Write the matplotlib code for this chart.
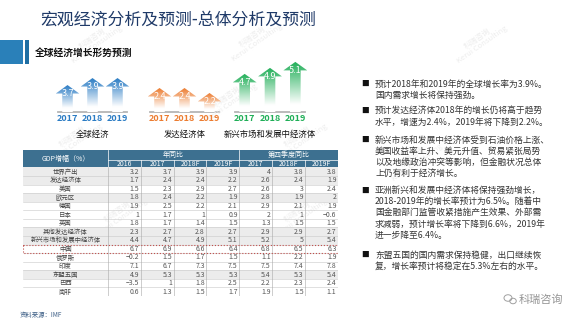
import matplotlib
matplotlib.use("Agg")
import matplotlib.pyplot as plt
import numpy as np
from matplotlib.patches import Polygon, Rectangle, Ellipse

plt.rcParams['font.family'] = ['Noto Sans CJK SC', 'DejaVu Sans']

W, H = 580, 327

# ---- data ----
years = ['2017', '2018', '2019']
group_names = ['全球经济', '发达经济体', '新兴市场和发展中经济体']
world = [3.7, 3.9, 3.9]
advanced = [2.4, 2.4, 2.2]
emerging = [4.7, 4.9, 5.1]
group_colors = ['#2b7cc4', '#ec7c30', '#1fae57']

row_labels = ['世界产出', '发达经济体', '美国', '欧元区', '德国', '日本', '英国',
              '其他发达经济体', '新兴市场和发展中经济体', '中国', '俄罗斯', '印度',
              '东盟五国', '巴西', '南非']
col_labels = ['2016', '2017', '2018F', '2019F', '2017', '2018F', '2019F']
y2016 = [3.2, 1.7, 1.5, 1.8, 1.9, 1, 1.8, 2.3, 4.4, 6.7, -0.2, 7.1, 4.9, -3.5, 0.6]
y2017 = [3.7, 2.4, 2.3, 2.4, 2.5, 1.7, 1.7, 2.7, 4.7, 6.9, 1.5, 6.7, 5.3, 1, 1.3]
y2018f = [3.9, 2.4, 2.9, 2.2, 2.2, 1, 1.4, 2.8, 4.9, 6.6, 1.7, 7.3, 5.3, 1.8, 1.5]
y2019f = [3.9, 2.2, 2.7, 1.9, 2.1, 0.9, 1.5, 2.7, 5.1, 6.4, 1.5, 7.5, 5.3, 2.5, 1.7]
q2017 = [4, 2.6, 2.6, 2.8, 2.9, 2, 1.3, 2.9, 5.2, 6.8, 1.1, 7.5, 5.4, 2.2, 1.9]
q2018f = [3.8, 2.4, 3, 1.9, 2.1, 1, 1.5, 2.9, 5, 6.5, 2.2, 7.4, 5.3, 2.3, 1.5]
q2019f = [3.8, 1.9, 2.4, 2, 1.9, -0.6, 1.5, 2.7, 5.4, 6.3, 1.9, 7.8, 5.4, 2.4, 1.1]
shaded_rows = [0, 1, 3, 7, 8, 12]

bullets = [
    ['预计2018年和2019年的全球增长率为3.9%。', '国内需求增长将保持强劲。'],
    ['预计发达经济体2018年的增长仍将高于趋势', '水平，增速为2.4%，2019年将下降到2.2%。'],
    ['新兴市场和发展中经济体受到石油价格上涨、', '美国收益率上升、美元升值、贸易紧张局势',
     '以及地缘政治冲突等影响，但金融状况总体', '上仍有利于经济增长。'],
    ['亚洲新兴和发展中经济体将保持强劲增长，', '2018-2019年的增长率预计为6.5%。随着中',
     '国金融部门监管收紧措施产生效果、外部需', '求减弱，预计增长率将下降到6.6%，2019年',
     '进一步降至6.4%。'],
    ['东盟五国的国内需求保持稳健，出口继续恢', '复，增长率预计将稳定在5.3%左右的水平。'],
]
bullet_tops = [84, 110.7, 140, 190.5, 255]


def box(x0, y0, x1, y1):
    # pixel box (top-left origin) -> figure fraction rect
    return [x0 / W, 1 - y1 / H, (x1 - x0) / W, (y1 - y0) / H]


fig = plt.figure(figsize=(W / 100, H / 100), dpi=100)
fig.patch.set_facecolor('white')

# background / decoration layer in pixel coordinates
bg = fig.add_axes([0, 0, 1, 1])
bg.set_xlim(0, W)
bg.set_ylim(H, 0)
bg.axis('off')

# faint watermarks
for wx, wy in [(95, 42), (255, 40), (480, 42), (75, 140), (300, 140), (120, 215),
               (300, 215), (415, 160), (230, 100)]:
    bg.text(wx, wy, '科瑞咨询\nKerui Consulting', fontsize=5.5, color='#ededed',
            rotation=35, ha='center', va='center', linespacing=0.9)

bg.text(40, 20, '宏观经济分析及预测-总体分析及预测', fontsize=12.2, color='#1f3a68',
        ha='left', va='center')
bg.add_patch(Rectangle((0, 40), 23, 24, color='#2a80b9', lw=0))
bg.add_patch(Rectangle((25, 40), 3.5, 24, color='#1f6ea3', lw=0))
bg.text(35, 53, '全球经济增长形势预测', fontsize=7, fontweight='bold', color='#111111',
        ha='left', va='center')

bg.text(20, 315, '资料来源：IMF', fontsize=4.6, color='#3d5f86', ha='left', va='center')

# logo bottom right
bg.add_patch(Ellipse((508, 298), 8, 6.5, fill=False, ec='#a0a0a0', lw=0.7))
bg.add_patch(Ellipse((513, 301), 6.5, 5.5, fill=False, ec='#a0a0a0', lw=0.7))
bg.text(519, 299.5, '科瑞咨询', fontsize=8, color='#949494', ha='left', va='center')

# bullets
for top, lines in zip(bullet_tops, bullets):
    bg.text(365, top, '■', fontsize=5.5, color='#111111', ha='center', va='center')
    for k, line in enumerate(lines):
        bg.text(375, top + k * 11.2, line, fontsize=6.3, color='#333333',
                ha='left', va='center')

# ---- arrow groups ----
groups = [world, advanced, emerging]
group_px = [(55, 130), (147, 222), (232, 308)]
group_base = [2.93, 1.44, 3.43]
group_scale = [35, 25, 30]   # px per unit
area_top, area_bot = 60, 112
for vals, (gx0, gx1), base, scale, col, name in zip(groups, group_px, group_base,
                                                     group_scale, group_colors, group_names):
    ax = fig.add_axes(box(gx0, area_top, gx1, area_bot))
    ax.set_xlim(-0.5, 2.5)
    ax.set_ylim(base, base + (area_bot - area_top) / scale)
    ax.axis('off')
    head_h = 8.5 / scale
    rgb = np.array(matplotlib.colors.to_rgb(col))
    frac = np.linspace(0, 1, 100)
    mix = np.clip(frac / 0.85, 0, 1)[:, None]
    g = np.ones((100, 1, 4))
    g[:, 0, :3] = rgb * (1 - mix) + mix * 1.0
    for i, v in enumerate(vals):
        sw, hw = 0.21, 0.47
        pts = [(i - sw, base), (i - sw, v - head_h), (i - hw, v - head_h), (i, v),
               (i + hw, v - head_h), (i + sw, v - head_h), (i + sw, base)]
        poly = Polygon(pts, closed=True, fc='none', ec='none')
        ax.add_patch(poly)
        # gradient: strong at top, fading to white at the base
        im = ax.imshow(g, extent=(i - hw, i + hw, base, v), aspect='auto',
                       origin='upper', zorder=2)
        im.set_clip_path(poly)
        ax.text(i, v - head_h * 1.05, f'{v:g}', color='white', fontsize=6.5,
                ha='center', va='center', zorder=3)
    bg.plot([gx0 + 3, gx1 - 3], [112, 112], color='#b5b5b5', lw=1.3)
    cx = [gx0 + (gx1 - gx0) * (k + 0.5) / 3 for k in range(3)]
    for xx, yr in zip(cx, years):
        bg.text(xx, 118.5, yr, fontsize=6.5, fontweight='bold', color=col,
                ha='center', va='center')
    bg.text((gx0 + gx1) / 2, 134, name, fontsize=6, color='#111111',
            ha='center', va='center')

# ---- table ----
cols = [y2016, y2017, y2018f, y2019f, q2017, q2018f, q2019f]
tx0, tx1, ty0, ty1 = 23, 338, 150, 296
tab = fig.add_axes(box(tx0, ty0, tx1, ty1))
lab_w, col_w = 85, 33
n = len(row_labels)
h1, h2 = 10, 7.5
row_h = (ty1 - ty0 - h1 - h2) / n
tab.set_xlim(0, lab_w + col_w * len(cols))
tab.set_ylim(ty1 - ty0, 0)
tab.axis('off')
head_col = '#3d7090'
tab.add_patch(Rectangle((0, 0), lab_w + col_w * 7, h1 + h2, color=head_col, lw=0))
tab.text(lab_w / 2, (h1 + h2) / 2, 'GDP增幅（%）', color='white', fontsize=5,
         ha='center', va='center')
tab.text(lab_w + col_w * 2, h1 / 2, '年同比', color='white', fontsize=5,
         ha='center', va='center')
tab.text(lab_w + col_w * 5.5, h1 / 2, '第四季度同比', color='white', fontsize=5,
         ha='center', va='center')
tab.plot([lab_w, lab_w + col_w * 7], [h1, h1], color='white', lw=0.5)
for j, cl in enumerate(col_labels):
    tab.text(lab_w + col_w * (j + 0.5), h1 + h2 / 2 + 0.3, cl, color='white',
             fontsize=5, ha='center', va='center')
for j in range(8):
    xx = lab_w + col_w * j
    tab.plot([xx, xx], [h1 if j not in (0, 4, 7) else 0, h1 + h2], color='white', lw=0.5)

for i, lab in enumerate(row_labels):
    y0 = h1 + h2 + i * row_h
    if i in shaded_rows:
        tab.add_patch(Rectangle((0, y0), lab_w + col_w * 7, row_h, color='#ececec', lw=0))
    tab.plot([0, lab_w + col_w * 7], [y0 + row_h, y0 + row_h], color='#c9c9c9', lw=0.4)
    tab.text(lab_w / 2, y0 + row_h / 2, lab, fontsize=4.6, color='#444444',
             ha='center', va='center')
    for j, c in enumerate(cols):
        s = f'{c[i]:g}'.replace('-', '\u2212')
        tab.text(lab_w + col_w * (j + 1) - 1.5, y0 + row_h / 2, s, fontsize=5,
                 color='#555555', ha='right', va='center')
for j in range(8):
    xx = lab_w + col_w * j
    tab.plot([xx, xx], [h1 + h2, ty1 - ty0], color='#a8a8a8', lw=0.4)

ci = row_labels.index('中国')
tab.add_patch(Rectangle((0, h1 + h2 + ci * row_h), lab_w + col_w * 7, row_h,
                        fill=False, ec='#c0504d', lw=0.8, ls=':', zorder=5))

fig.savefig('out.png', dpi=100, facecolor='white')
